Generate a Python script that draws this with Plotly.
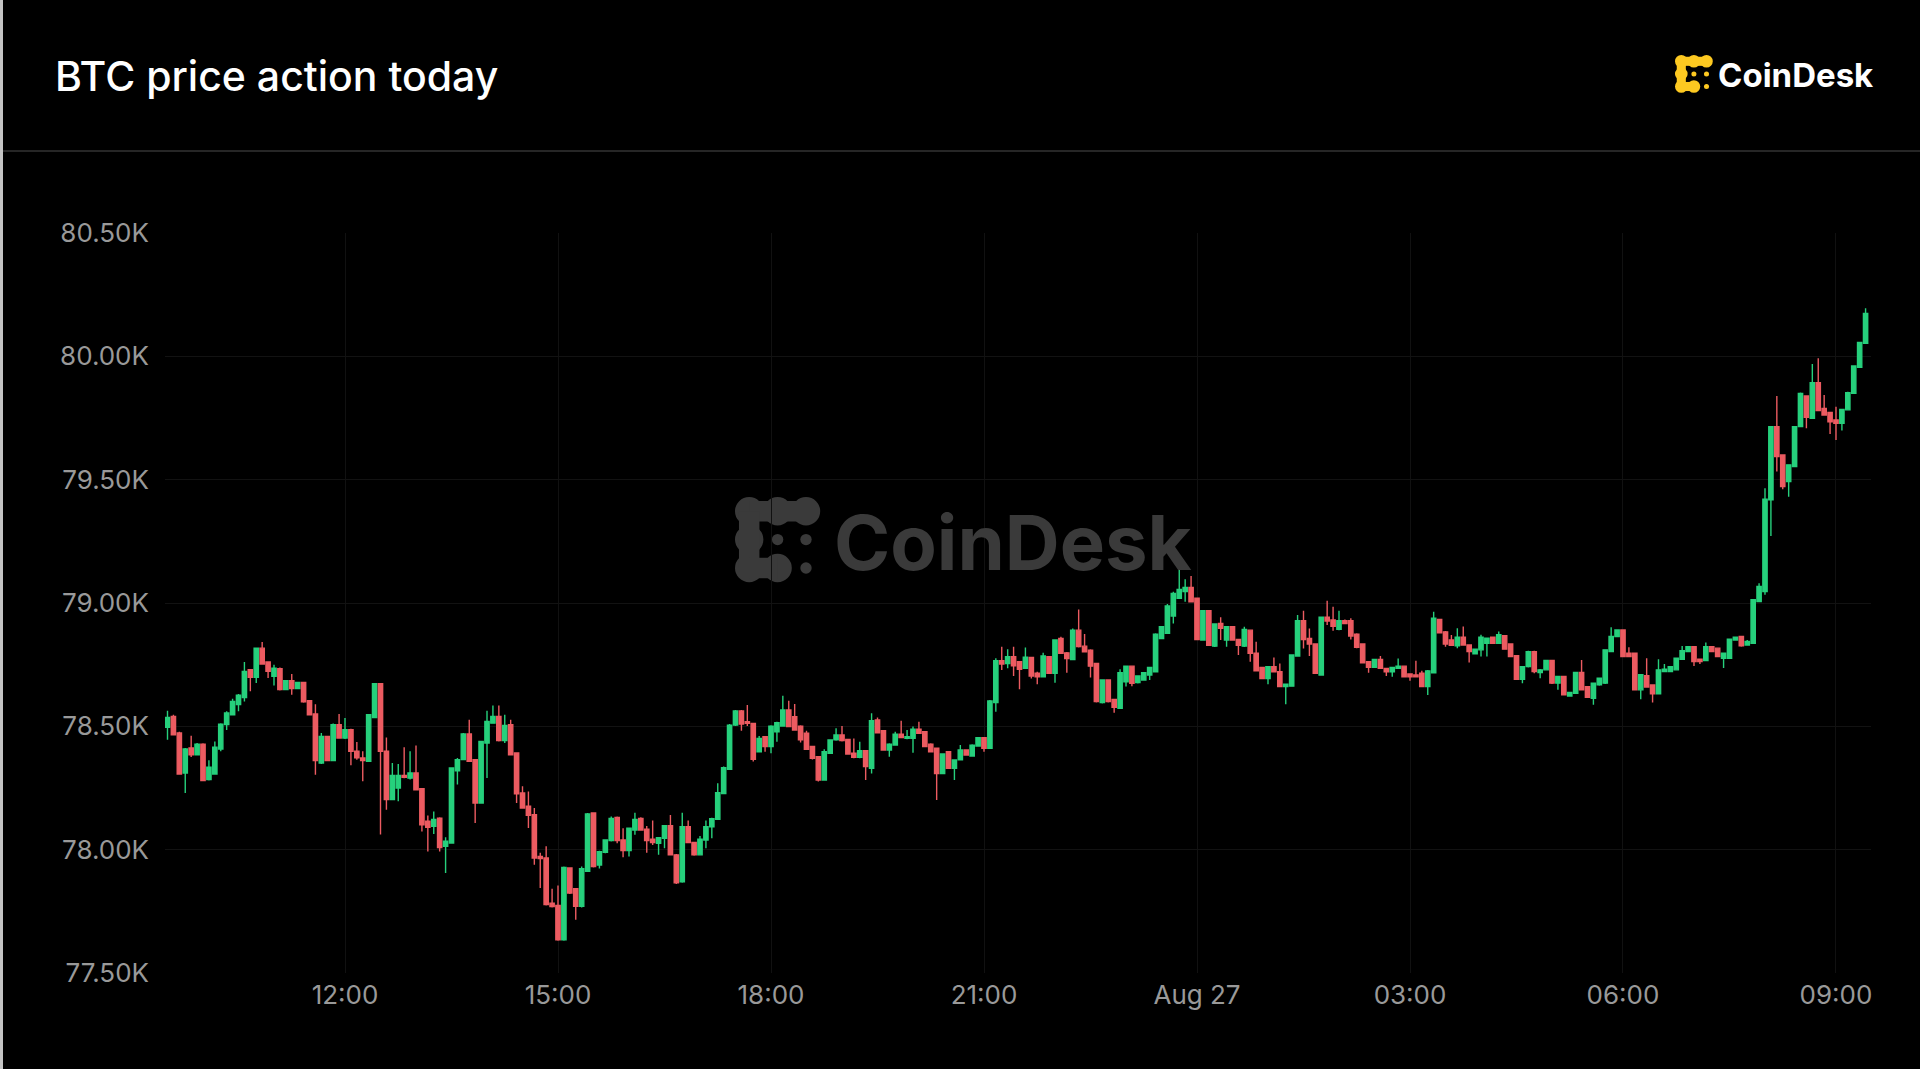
import plotly.graph_objects as go
import pandas as pd

# ---------------- data (5-minute BTC candles) ----------------
START = "2024-08-26 09:30"
OPEN = [78496,78540,78473,78311,78412,78385,78428,78284,78307,78408,78507,78547,78588,78617,78730,78699,78817,78761,78703,78734,
        78649,78685,78653,78678,78604,78550,78351,78459,78361,78507,78453,78486,78399,78372,78358,78536,78673,78399,78203,78250,
        78301,78290,78311,78247,78115,78095,78128,78014,78027,78320,78365,78469,78365,78189,78432,78513,78540,78442,78507,78392,
        78230,78176,78142,77973,77966,77783,77774,77635,77926,77842,77770,77912,78149,77938,77989,78037,78131,78039,77996,78080,
        78127,78083,78042,78026,78046,78097,77979,77870,78093,78029,77979,78039,78093,78123,78228,78326,78505,78562,78519,78512,
        78397,78458,78418,78478,78501,78566,78539,78501,78472,78418,78377,78282,78391,78445,78465,78447,78391,78374,78401,78330,
        78526,78482,78404,78424,78468,78451,78451,78488,78478,78428,78411,78309,78397,78330,78364,78404,78380,78420,78454,78411,
        78596,78766,78755,78782,78762,78735,78779,78715,78701,78782,78715,78856,78798,78771,78890,78825,78809,78755,78596,78688,
        78609,78573,78681,78744,78677,78688,78708,78721,78856,78877,78947,79019,79046,79063,79019,78850,78969,78825,78917,78850,
        78904,78852,78825,78890,78796,78739,78694,78742,78721,78661,78663,78785,78928,78856,78834,78708,78942,78931,78893,78928,
        78928,78874,78834,78762,78739,78771,78735,78721,78735,78744,78712,78708,78715,78661,78717,78933,78883,78850,78826,78861,
        78830,78794,78810,78837,78861,78837,78867,78834,78786,78691,78742,78803,78718,78729,78767,78675,78702,78623,78634,78718,
        78661,78614,78668,78675,78803,78864,78891,78796,78796,78648,78705,78668,78632,78722,78722,78729,78772,78803,78823,78772,
        78767,78823,78817,78776,78776,78850,78864,78830,78837,79006,79046,79418,79715,79600,79492,79553,79715,79839,79749,79893,
        79789,79772,79742,79729,79783,79850,79956,80053]
HIGH = [78563,78547,78478,78412,78462,78432,78431,78362,78439,78513,78561,78612,78631,78761,78732,78820,78842,78763,78750,78739,
        78688,78712,78681,78681,78607,78590,78473,78462,78511,78550,78534,78490,78436,78399,78550,78676,78676,78455,78351,78347,
        78415,78399,78422,78250,78139,78155,78131,78050,78334,78372,78473,78527,78368,78442,78563,78584,78584,78547,78527,78395,
        78257,78236,78169,77987,78014,77842,77855,77932,77929,77845,77932,78149,78152,77996,78042,78134,78134,78087,78089,78150,
        78131,78096,78118,78051,78100,78141,77982,78150,78118,78032,78055,78118,78129,78269,78337,78509,78566,78566,78586,78515,
        78461,78461,78504,78519,78624,78604,78591,78504,78482,78421,78380,78407,78448,78492,78501,78450,78451,78438,78404,78553,
        78536,78485,78431,78478,78523,78485,78499,78519,78481,78431,78414,78391,78400,78367,78424,78407,78427,78457,78457,78607,
        78776,78823,78812,78823,78765,78820,78782,78721,78798,78785,78852,78863,78801,78897,78974,78874,78812,78758,78691,78691,
        78612,78731,78747,78747,78707,78720,78742,78877,78907,78996,79046,79150,79096,79109,79022,78972,78972,78918,78942,78907,
        78907,78855,78904,78893,78843,78742,78745,78779,78755,78674,78792,78951,78969,78897,78837,78945,79009,78985,78969,78933,
        78938,78877,78837,78765,78774,78785,78738,78742,78775,78747,78715,78766,78725,78728,78965,78936,78886,78870,78898,78905,
        78833,78816,78871,78860,78864,78884,78870,78837,78789,78745,78806,78806,78732,78770,78770,78705,78705,78640,78721,78769,
        78664,78678,78698,78813,78902,78894,78894,78821,78799,78712,78776,78671,78772,78753,78745,78779,78826,78826,78826,78775,
        78840,78826,78820,78799,78856,78864,78867,78850,79016,79080,79465,79718,79839,79603,79563,79718,79853,79842,79969,79992,
        79843,79775,79796,79788,79856,79964,80059,80195]
LOW = [78446,78463,78304,78230,78376,78382,78277,78280,78304,78399,78485,78545,78561,78601,78642,78676,78750,78696,78666,78645,
       78646,78628,78650,78596,78545,78304,78347,78358,78358,78450,78449,78342,78365,78277,78355,78534,78061,78162,78200,78196,
       78290,78284,78241,78074,77993,78064,77993,77905,78024,78264,78362,78355,78108,78186,78291,78511,78439,78432,78382,78189,
       78166,78088,77939,77845,77774,77766,77631,77631,77820,77716,77766,77909,77928,77924,77985,78033,78026,77969,77972,78060,
       78077,77988,78019,77979,78006,77976,77861,77866,78026,77975,77976,78006,78046,78120,78225,78323,78501,78482,78501,78357,
       78394,78397,78391,78438,78498,78496,78482,78434,78404,78366,78276,78279,78388,78442,78439,78385,78371,78371,78282,78309,
       78471,78401,78377,78421,78452,78448,78393,78469,78415,78394,78201,78306,78327,78282,78361,78381,78377,78417,78397,78408,
       78559,78728,78735,78704,78650,78732,78694,78671,78698,78712,78677,78793,78717,78768,78820,78799,78698,78597,78593,78597,
       78555,78570,78661,78663,78674,78685,78688,78718,78853,78874,78917,79016,79005,79002,78849,78847,78826,78822,78850,78823,
       78847,78789,78822,78762,78722,78691,78671,78718,78658,78590,78660,78782,78816,78785,78712,78705,78911,78888,78890,78914,
       78852,78817,78755,78717,78736,78732,78704,78701,78732,78698,78685,78698,78658,78627,78714,78876,78823,78826,78817,78827,
       78759,78791,78783,78783,78834,78834,78810,78780,78688,78675,78739,78715,78695,78726,78672,78648,78625,78620,78631,78645,
       78615,78587,78665,78672,78800,78861,78780,78780,78645,78610,78656,78597,78629,78719,78719,78726,78769,78800,78745,78753,
       78764,78800,78780,78736,78773,78847,78823,78827,78834,79003,79033,79272,79533,79461,79431,79550,79712,79708,79746,79777,
       79759,79685,79661,79699,79780,79847,79953,80050]
CLOSE = [78536,78466,78307,78408,78385,78428,78280,78334,78415,78509,78554,78601,78626,78723,78699,78817,78753,78723,78736,78649,
         78685,78653,78678,78599,78547,78361,78459,78361,78507,78453,78486,78399,78372,78361,78547,78673,78399,78203,78301,78301,
         78293,78311,78243,78101,78091,78122,78009,78034,78331,78365,78469,78358,78189,78439,78520,78540,78442,78504,78385,78226,
         78169,78139,77966,77964,77777,77769,77635,77928,77824,77770,77923,78145,77932,77992,78039,78127,78037,77996,78087,78123,
         78080,78037,78029,78049,78097,77979,77866,78093,78029,77979,78042,78093,78126,78231,78332,78505,78562,78509,78512,78366,
         78451,78418,78501,78515,78566,78499,78485,78445,78407,78370,78282,78397,78445,78465,78442,78388,78374,78401,78337,78523,
         78474,78404,78428,78468,78455,78458,78488,78472,78418,78397,78309,78388,78330,78364,78404,78384,78424,78454,78411,78603,
         78766,78753,78782,78745,78731,78780,78704,78701,78785,78715,78850,78796,78775,78890,78823,78802,78744,78600,78688,78600,
         78577,78717,78744,78674,78704,78717,78739,78874,78904,78988,79039,79055,79063,79005,78852,78969,78829,78915,78897,78904,
         78850,78829,78893,78796,78725,78694,78742,78721,78661,78671,78789,78928,78852,78834,78715,78942,78927,78906,78928,78917,
         78866,78820,78758,78739,78771,78735,78721,78739,78744,78701,78701,78701,78661,78725,78938,78879,78834,78829,78861,78830,
         78803,78813,78861,78857,78837,78871,78813,78783,78691,78742,78803,78722,78729,78767,78675,78702,78628,78637,78718,78648,
         78618,78675,78695,78810,78864,78891,78783,78783,78648,78709,78659,78632,78729,78732,78742,78776,78807,78823,78763,78763,
         78823,78803,78783,78796,78853,78861,78826,78844,79013,79067,79421,79715,79594,79472,79560,79715,79850,79753,79893,79780,
         79762,79735,79729,79785,79853,79961,80056,80174]

Y_TICKS = [77500, 78000, 78500, 79000, 79500, 80000, 80500]
Y_LABELS = ["77.50K", "78.00K", "78.50K", "79.00K", "79.50K", "80.00K", "80.50K"]
X_TICKS = ["2024-08-26 12:00", "2024-08-26 15:00", "2024-08-26 18:00", "2024-08-26 21:00",
           "2024-08-27 00:00", "2024-08-27 03:00", "2024-08-27 06:00", "2024-08-27 09:00"]
X_LABELS = ["12:00", "15:00", "18:00", "21:00", "Aug 27", "03:00", "06:00", "09:00"]
X_RANGE = ["2024-08-26 09:27:53", "2024-08-27 09:29:35"]
Y_RANGE = [77500, 80500]

TITLE = "BTC price action today"
BRAND = "CoinDesk"

# ---------------- layout geometry (pixels) ----------------
W, H = 1920, 1069
ML, MR, MT, MB = 165, 49, 233, 96
PW, PH = W - ML - MR, H - MT - MB


def px(x):
    return (x - ML) / PW


def py(y):
    return (H - MB - y) / PH


times = pd.date_range(START, periods=len(OPEN), freq="5min")

GREEN = "#26d07c"
RED = "#ec5b61"

fig = go.Figure()
fig.add_trace(go.Candlestick(
    x=times, open=OPEN, high=HIGH, low=LOW, close=CLOSE,
    increasing=dict(line=dict(color=GREEN, width=1.4), fillcolor=GREEN),
    decreasing=dict(line=dict(color=RED, width=1.4), fillcolor=RED),
    whiskerwidth=0, showlegend=False, hoverinfo="skip",
))

shapes = []


def logo_icon(x0, y0, cell, color):
    """Blob-grid logo mark: top row, left column, bottom-left pair + three dots."""
    out = []
    cx = [x0 + cell * (i + 0.5) for i in range(3)]
    cy = [y0 + cell * (j + 0.5) for j in range(3)]
    r = cell * 0.5
    big = [(0, 0), (1, 0), (2, 0), (0, 1), (0, 2), (1, 2)]
    for (i, j) in big:
        out.append(dict(type="circle", xref="paper", yref="paper", layer="below",
                        x0=px(cx[i] - r), x1=px(cx[i] + r), y0=py(cy[j] + r), y1=py(cy[j] - r),
                        fillcolor=color, line=dict(width=0)))
    hw = cell * 0.36
    conns = [((cx[0], cy[0] - hw), (cx[2], cy[0] + hw)),
             ((cx[0] - hw, cy[0]), (cx[0] + hw, cy[2])),
             ((cx[0], cy[2] - hw), (cx[1], cy[2] + hw))]
    for (a, b) in conns:
        out.append(dict(type="rect", xref="paper", yref="paper", layer="below",
                        x0=px(a[0]), x1=px(b[0]), y0=py(b[1]), y1=py(a[1]),
                        fillcolor=color, line=dict(width=0)))
    rd = cell * 0.2
    for (i, j) in [(1, 1), (2, 1), (2, 2)]:
        out.append(dict(type="circle", xref="paper", yref="paper", layer="below",
                        x0=px(cx[i] - rd), x1=px(cx[i] + rd), y0=py(cy[j] + rd), y1=py(cy[j] - rd),
                        fillcolor=color, line=dict(width=0)))
    return out


shapes += logo_icon(735, 497, 28.4, "#3a3a3a")
shapes += logo_icon(1675, 55, 12.6, "#fdc921")
shapes.append(dict(type="line", xref="paper", yref="paper", x0=px(0), x1=px(W), y0=py(151), y1=py(151),
                   line=dict(color="#262626", width=2)))
shapes.append(dict(type="rect", xref="paper", yref="paper", x0=px(0), x1=px(3), y0=py(H), y1=py(0),
                   fillcolor="#c4c4c4", line=dict(width=0)))

annotations = [
    dict(text=TITLE, xref="paper", yref="paper", x=px(53), y=py(76), xanchor="left", yanchor="middle",
         showarrow=False, font=dict(family="Inter", size=41, color="#ffffff", weight=500)),
    dict(text=BRAND, xref="paper", yref="paper", x=px(1716), y=py(75), xanchor="left", yanchor="middle",
         showarrow=False, font=dict(family="Inter", size=33, color="#ffffff", weight=700)),
    dict(text=BRAND, xref="paper", yref="paper", x=px(832), y=py(542), xanchor="left", yanchor="middle",
         showarrow=False, font=dict(family="Inter", size=76, color="#3a3a3a", weight=700)),
]

AX_FONT = dict(family="Inter", size=26, color="#999999")

fig.update_layout(
    width=W, height=H,
    margin=dict(l=ML, r=MR, t=MT, b=MB, pad=0),
    paper_bgcolor="#000000", plot_bgcolor="#000000",
    showlegend=False, hovermode=False,
    boxgap=0.15, boxgroupgap=0.15,
    shapes=shapes, annotations=annotations,
    xaxis=dict(type="date", range=X_RANGE, tickvals=X_TICKS, ticktext=X_LABELS,
               showgrid=True, gridcolor="#111111", gridwidth=1, zeroline=False, showline=False,
               ticks="", tickfont=AX_FONT, ticklabelstandoff=4,
               rangeslider=dict(visible=False), fixedrange=True),
    yaxis=dict(range=Y_RANGE, tickvals=Y_TICKS, ticktext=Y_LABELS,
               showgrid=True, gridcolor="#121212", gridwidth=1, zeroline=False, showline=False,
               ticks="", tickfont=AX_FONT, ticklabelstandoff=15, fixedrange=True),
)

fig.write_html("out.html", config={"displayModeBar": False},
               post_script="document.body.style.margin='0';document.body.style.background='#000';")
